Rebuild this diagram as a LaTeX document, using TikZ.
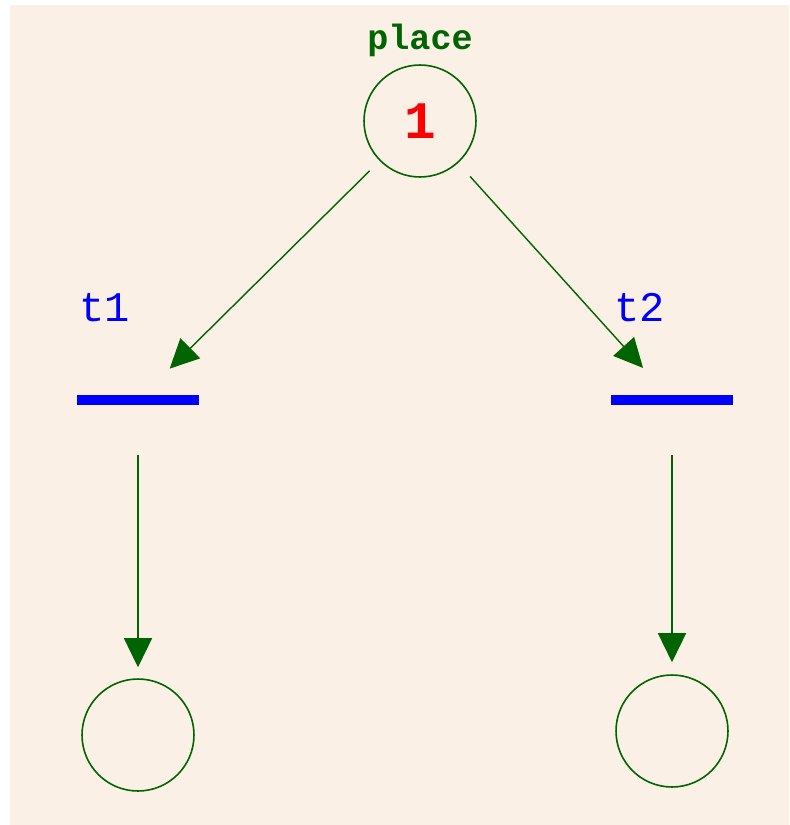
\documentclass[tikz,border=0pt]{standalone}
\usepackage{fontspec}
\setmonofont{Liberation Mono}
\usetikzlibrary{arrows.meta,positioning}
\definecolor{verdeRede}{RGB}{0,100,0}
\definecolor{fundoLinho}{RGB}{250,240,230}
\tikzset{
  lugar/.style={circle, draw=verdeRede, line width=0.9pt, minimum size=2.24cm,
                inner sep=0pt},
  transicao/.style={rectangle, fill=blue, minimum width=2.46cm, minimum height=0.2cm,
                    inner sep=0pt},
  nomeLugar/.style={inner sep=0pt, text=verdeRede, font=\fontsize{20}{24}\selectfont\ttfamily\bfseries},
  nomeTrans/.style={inner sep=0pt, text=blue, font=\fontsize{24}{28}\selectfont\ttfamily},
  seta/.style={-{Triangle[length=5.8mm, width=5.6mm]}, line width=0.8pt, verdeRede},
}
\begin{document}
\begin{tikzpicture}[x=0.02cm, y=-0.02cm]
  \useasboundingbox (0,0) rectangle (789,825);
  \fill[fundoLinho] (10,5) rectangle (789,825);
  \node[lugar, text=red, font=\fontsize{30}{34}\selectfont\ttfamily\bfseries] (p0) at (420,121) {1};
  \node[nomeLugar, above=0.14cm of p0] (n0) {place};
  \node[transicao] (t1) at (138,400) {};
  \node[transicao] (t2) at (672,400) {};
  \node[nomeTrans, above right=1.44cm and 0.06cm of t1.north west] (n1) {t1};
  \node[nomeTrans, above right=1.44cm and 0.08cm of t2.north west] (n2) {t2};
  \node[lugar] (p1) at (138,735) {};
  \node[lugar] (p2) at (672,731) {};
  \draw[seta, shorten <=0.28cm, shorten >=0.74cm] (p0) -- (t1);
  \draw[seta, shorten <=0.36cm, shorten >=0.72cm] (p0) -- (t2);
  \draw[seta, shorten <=1cm, shorten >=0.22cm] (t1) -- (p1);
  \draw[seta, shorten <=1cm, shorten >=0.24cm] (t2) -- (p2);
\end{tikzpicture}
\end{document}
